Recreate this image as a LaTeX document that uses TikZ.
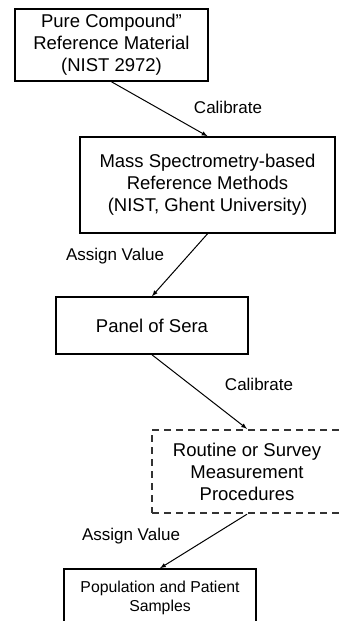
\documentclass[tikz,border=0pt]{standalone}
\usepackage{fontspec}
\setmainfont{Liberation Sans}
\usepackage{tikz}
\usetikzlibrary{positioning,arrows}

\begin{document}
\begin{tikzpicture}[x=1pt,y=-1pt,>=latex,
    box/.style={draw,line width=1.6pt,align=center,inner sep=0pt,
      font=\fontsize{18.5}{22}\selectfont},
    dashbox/.style={box,draw=black!80,line width=2.4pt,dash pattern=on 7pt off 5pt},
    lbl/.style={inner sep=0pt,font=\fontsize{17}{20}\selectfont},
    conn/.style={->,line width=1pt}]
  \useasboundingbox (0,0) rectangle (339,621);
  \clip (0,0) rectangle (339,621);
  \node[box,minimum width=193pt,minimum height=72pt] (pure) at (111.5,45)
    {Pure Compound”\\Reference Material\\(NIST 2972)};
  \node[box,minimum width=255pt,minimum height=96pt] (msrm) at (207.5,185)
    {Mass Spectrometry-based\\Reference Methods\\(NIST, Ghent University)};
  \node[box,minimum width=192pt,minimum height=57pt] (panel) at (152,325.5)
    {Panel of Sera};
  \node[dashbox,minimum width=190pt,minimum height=83pt] (routine) at (247,471.5)
    {Routine or Survey\\Measurement\\Procedures};
  \node[box,font=\fontsize{15.8}{19}\selectfont,minimum width=192pt,minimum height=58pt]
    (samples) at (160,598) {Population and Patient\\Samples};
  \node[lbl] (calA) at (228,107) {Calibrate};
  \node[lbl] (asgA) at (115,256) {Assign Value};
  \node[lbl] (calB) at (259,384) {Calibrate};
  \node[lbl] (asgB) at (131,536) {Assign Value};
  \path[conn] (pure.south)    edge (msrm.north);
  \path[conn] (msrm.south)    edge (panel.north);
  \path[conn] (panel.south)   edge (routine.north);
  \path[conn] (routine.south) edge (samples.north);
\end{tikzpicture}
\end{document}
